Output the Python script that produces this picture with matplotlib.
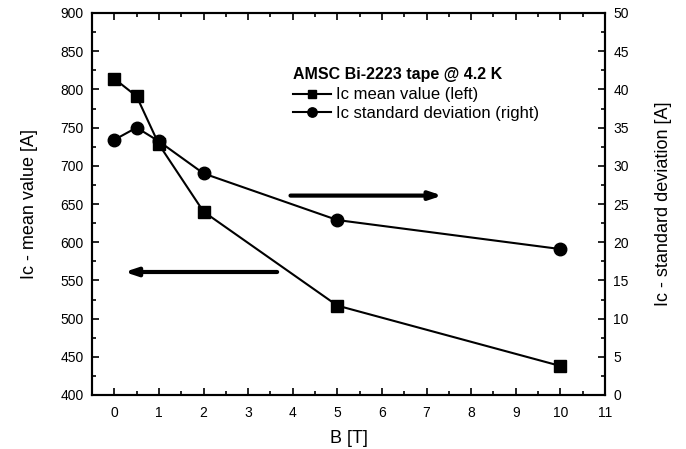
import matplotlib
matplotlib.use("Agg")
import matplotlib.pyplot as plt
from matplotlib.ticker import MultipleLocator

plt.rcParams["font.family"] = ["Liberation Sans", "DejaVu Sans"]

# Field values [T]
b_field = [0, 0.5, 1, 2, 5, 10]
# Ic mean value [A] (left axis)
ic_mean = [814, 791, 728, 640, 517, 438]
# Ic standard deviation [A] (right axis)
ic_std = [33.4, 35.0, 33.2, 29.0, 22.9, 19.1]

legend_title = "AMSC Bi-2223 tape @ 4.2 K"
label_mean = "Ic mean value (left)"
label_std = "Ic standard deviation (right)"

fig = plt.figure(figsize=(6.86, 4.49), dpi=100)
ax1 = fig.add_axes([92 / 686, 1 - 395 / 449, 513 / 686, 382 / 449])
ax2 = ax1.twinx()

# Left axis: mean value
l1, = ax1.plot(b_field, ic_mean, color="black", lw=1.5, marker="s",
               markersize=8, label=label_mean)
# Right axis: standard deviation
l2, = ax2.plot(b_field, ic_std, color="black", lw=1.5, marker="o",
               markersize=9, label=label_std)

ax1.set_xlim(-0.5, 11)
ax1.set_ylim(400, 900)
ax2.set_ylim(0, 50)

ax1.xaxis.set_major_locator(MultipleLocator(1))
ax1.xaxis.set_minor_locator(MultipleLocator(0.5))
ax1.yaxis.set_major_locator(MultipleLocator(50))
ax1.yaxis.set_minor_locator(MultipleLocator(25))
ax2.yaxis.set_major_locator(MultipleLocator(5))
ax2.yaxis.set_minor_locator(MultipleLocator(2.5))

ax1.tick_params(axis="x", which="both", direction="in", top=True,
                labelsize=10, width=1.2, pad=8)
ax1.tick_params(axis="y", which="both", direction="in", right=False,
                labelsize=10, width=1.2, pad=6)
ax2.tick_params(axis="y", which="both", direction="in", labelsize=10,
                width=1.2, pad=6)
for a in (ax1, ax2):
    a.tick_params(which="major", length=5)
    a.tick_params(which="minor", length=3)
    for s in a.spines.values():
        s.set_linewidth(1.5)

ax1.set_xlabel("B [T]", fontsize=13, labelpad=7)
ax1.set_ylabel("Ic - mean value [A]", fontsize=13, labelpad=16)
ax2.set_ylabel("Ic - standard deviation [A]", fontsize=13, labelpad=19)

# Direction arrows pointing to the relevant axis
ax1.annotate("", xy=(7.35, 661), xytext=(3.95, 661),
             arrowprops=dict(arrowstyle="-|>,head_length=0.6,head_width=0.2",
                             color="black", lw=3, mutation_scale=12,
                             shrinkA=0, shrinkB=0))
ax1.annotate("", xy=(0.23, 561), xytext=(3.65, 561),
             arrowprops=dict(arrowstyle="-|>,head_length=0.6,head_width=0.2",
                             color="black", lw=3, mutation_scale=12,
                             shrinkA=0, shrinkB=0))

# Legend title drawn as its own text, entries below it
ax1.text(0.392, 0.838, legend_title, transform=ax1.transAxes,
         fontsize=11.5, fontweight="bold", ha="left", va="center")
leg = ax2.legend([l1, l2], [label_mean, label_std],
                 loc="upper left", bbox_to_anchor=(0.392, 0.805),
                 frameon=False, fontsize=12, handlelength=2.3,
                 handletextpad=0.25, labelspacing=0.2, borderpad=0,
                 borderaxespad=0, markerscale=0.75)

fig.savefig("out.png", dpi=100)
